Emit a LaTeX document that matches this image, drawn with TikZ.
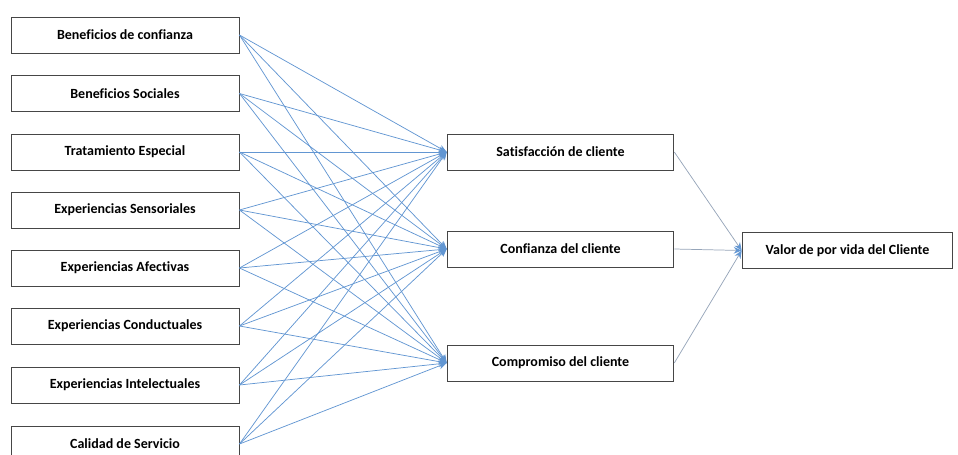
\documentclass[tikz,border=0pt]{standalone}
\usepackage{fontspec}
\setmainfont{Carlito}[Ligatures=NoCommon]
\usetikzlibrary{arrows.meta}
\definecolor{linkblue}{RGB}{98,150,210}
\definecolor{linkgray}{RGB}{150,165,185}
\definecolor{boxline}{RGB}{70,70,70}
\begin{document}
\begin{tikzpicture}[x=0.75pt,y=-0.75pt,
  box/.style={draw=boxline,line width=0.7pt,fill=white,rectangle,
    minimum height=27pt,inner sep=0pt,font=\fontsize{10.5}{12}\selectfont\bfseries},
  leftbox/.style={box,minimum width=171pt},
  midbox/.style={box,minimum width=170pt},
  link/.style={draw=linkblue,line width=0.55pt,-{Stealth[length=6pt,width=5pt,fill=linkblue]}},
  outlink/.style={draw=linkgray,line width=0.55pt,-{Stealth[length=6pt,width=5pt,color=linkblue,fill=linkblue]}}]
\useasboundingbox (0,0) rectangle (958,454);
% antecedents
\node[leftbox] (b1) at (125,35)  {Beneficios de confianza};
\node[leftbox] (b2) at (125,93.5) {Beneficios Sociales};
\node[leftbox] (b3) at (125,152) {Tratamiento Especial};
\node[leftbox] (b4) at (125,210) {Experiencias Sensoriales};
\node[leftbox] (b5) at (125,268) {Experiencias Afectivas};
\node[leftbox] (b6) at (125,326) {Experiencias Conductuales};
\node[leftbox] (b7) at (125,385) {Experiencias Intelectuales};
\node[leftbox] (b8) at (125,444) {Calidad de Servicio};
% mediators
\node[midbox] (m1) at (560.5,152) {Satisfacción de cliente};
\node[midbox] (m2) at (560.5,249) {Confianza del cliente};
\node[midbox] (m3) at (560.5,363) {Compromiso del cliente};
% outcome
\node[box,minimum width=158pt] (v) at (847.5,250.5) {Valor de por vida del Cliente};
% every antecedent feeds every mediator
\foreach \i in {1,...,8}{
  \foreach \j in {1,2,3}{
    \draw[link] (b\i.east) -- (m\j.west);
  }
}
% mediators feed the outcome
\foreach \j in {1,2,3}{
  \draw[outlink] (m\j.east) -- (v.west);
}
\end{tikzpicture}
\end{document}
